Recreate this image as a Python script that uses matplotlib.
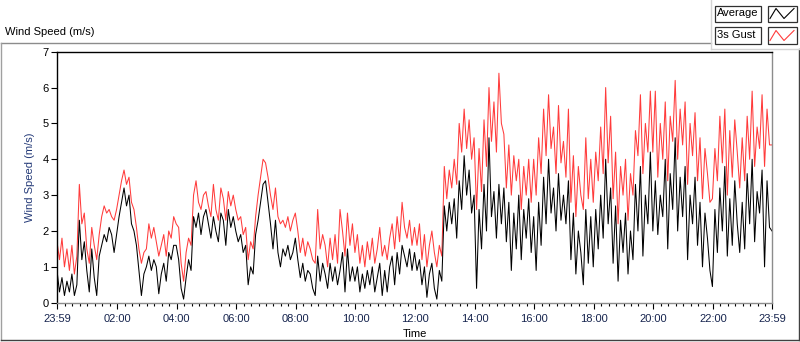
import numpy as np
import matplotlib.pyplot as plt
from matplotlib.patches import Rectangle
from matplotlib.lines import Line2D

# wind speed in m/s, 5 minute samples starting at 23:59 (one row = one hour)
avg_speed = [
    0.9, 0.3, 0.7, 0.2, 0.6, 0.3, 0.8, 0.2, 0.5, 2.3, 1.2, 1.7,
    0.9, 0.3, 1.5, 0.7, 0.2, 1.3, 1.6, 1.9, 1.7, 2.1, 1.9, 1.4,
    1.9, 2.4, 2.8, 3.2, 2.7, 3.0, 2.2, 2.0, 1.6, 0.9, 0.2, 0.8,
    1.0, 1.3, 0.9, 1.2, 1.0, 0.25, 0.8, 1.1, 0.6, 1.4, 1.2, 1.6,
    1.6, 1.2, 0.4, 0.1, 0.7, 1.2, 0.9, 2.4, 2.1, 2.5, 1.9, 2.4,
    2.6, 2.2, 1.8, 2.4, 2.0, 1.7, 2.5, 2.3, 1.6, 2.6, 2.1, 2.4,
    2.0, 1.7, 1.9, 1.4, 1.6, 0.5, 1.0, 0.8, 1.9, 2.3, 2.8, 3.3,
    3.4, 2.8, 2.2, 1.5, 2.3, 1.4, 1.0, 1.5, 1.3, 1.6, 1.2, 1.4,
    1.8, 1.2, 0.7, 1.1, 0.6, 0.9, 0.8, 0.4, 0.2, 1.3, 0.6, 1.1,
    0.8, 0.4, 1.1, 0.6, 1.0, 0.5, 0.9, 1.4, 0.3, 1.5, 0.6, 1.0,
    0.6, 1.0, 0.3, 0.8, 0.4, 0.9, 0.5, 1.0, 0.3, 0.7, 1.1, 0.2,
    0.9, 0.3, 1.0, 1.3, 0.5, 1.4, 0.8, 1.6, 1.3, 1.0, 1.5, 0.9,
    1.4, 0.9, 1.2, 0.5, 1.0, 0.15, 0.8, 1.1, 0.4, 0.1, 0.9, 0.6,
    2.7, 2.0, 2.8, 2.2, 2.9, 1.8, 3.4, 2.6, 4.1, 3.0, 3.7, 2.5,
    3.0, 0.4, 2.6, 1.5, 3.3, 2.0, 4.6, 2.4, 3.1, 1.8, 3.3, 2.2,
    3.2, 1.7, 2.8, 0.9, 2.5, 1.5, 3.0, 1.2, 2.6, 1.8, 2.9, 1.4,
    2.4, 0.9, 2.8, 1.6, 3.5, 2.2, 4.0, 2.5, 3.2, 2.0, 3.6, 2.3,
    3.0, 2.2, 3.4, 1.2, 2.5, 0.8, 2.0, 1.4, 0.5, 2.6, 1.1, 2.4,
    1.0, 2.6, 1.5, 3.0, 1.8, 4.0, 2.2, 3.2, 1.1, 2.7, 0.6, 2.3,
    1.4, 2.5, 0.8, 2.0, 1.2, 3.3, 2.0, 3.8, 1.3, 3.0, 2.2, 4.2,
    2.0, 3.4, 1.9, 3.0, 2.4, 4.0, 1.5, 3.6, 2.6, 4.6, 2.0, 3.5,
    2.4, 3.8, 1.2, 3.0, 2.2, 3.5, 1.6, 2.8, 1.0, 2.5, 1.8, 0.9,
    0.45, 2.6, 1.4, 3.2, 2.0, 3.8, 1.3, 2.9, 1.6, 3.4, 2.2, 1.4,
    2.8, 1.5, 3.6, 2.2, 4.0, 1.7, 3.1, 2.5, 3.7, 1.0, 3.4, 2.1,
    2.0,
]
gust_speed = [
    1.7, 1.2, 1.8, 1.0, 1.5, 0.9, 1.6, 0.8, 1.3, 3.3, 2.2, 2.5,
    1.5, 1.1, 2.1, 1.6, 1.2, 1.9, 2.4, 2.7, 2.5, 2.6, 2.4, 2.3,
    2.6, 3.0, 3.4, 3.7, 3.3, 3.5, 2.8, 2.6, 2.1, 1.5, 1.1, 1.4,
    1.5, 2.2, 1.8, 2.1, 1.7, 1.3, 1.6, 1.9, 1.3, 2.0, 1.8, 2.4,
    2.2, 2.1, 1.1, 0.6, 1.4, 1.8, 1.6, 3.0, 3.4, 2.8, 2.6, 3.0,
    3.1, 2.7, 2.4, 3.3, 2.6, 2.3, 3.2, 2.9, 2.3, 3.1, 2.7, 3.0,
    2.6, 2.3, 2.4, 1.9, 2.1, 1.2, 1.7, 1.5, 2.4, 3.0, 3.5, 4.0,
    3.9, 3.5, 3.0, 2.6, 3.2, 2.4, 2.2, 2.3, 2.1, 2.4, 2.0, 2.3,
    2.5, 2.0, 1.4, 1.8, 1.3, 1.7, 1.5, 1.2, 1.1, 2.6, 1.5, 1.9,
    1.6, 1.0, 1.8, 1.2, 1.9, 1.1, 2.6, 2.0, 1.3, 2.5, 1.6, 2.2,
    1.4, 1.9, 1.1, 1.6, 1.0, 1.7, 1.2, 1.8, 1.1, 1.5, 2.1, 1.3,
    1.6, 1.2, 1.8, 2.2, 1.5, 2.4, 1.7, 2.8, 2.1, 1.8, 2.3, 1.6,
    2.1, 1.6, 2.2, 1.2, 1.9, 1.0, 1.6, 2.0, 1.4, 1.0, 1.6, 1.3,
    3.8, 2.9, 3.7, 3.2, 4.0, 3.3, 5.0, 4.2, 5.4, 4.3, 5.1, 4.0,
    4.6, 2.6, 4.3, 3.1, 5.1, 3.8, 6.0, 4.5, 5.6, 4.2, 6.4, 5.0,
    4.7, 3.2, 4.4, 3.0, 4.1, 3.4, 4.0, 2.6, 3.8, 3.0, 4.0, 2.8,
    4.0, 3.0, 4.6, 3.6, 5.4, 4.1, 5.8, 4.3, 4.9, 3.6, 5.5, 3.9,
    4.5, 3.5, 5.4, 2.8, 4.1, 2.4, 3.8, 3.0, 2.6, 4.6, 2.9, 4.0,
    2.8, 4.2, 3.4, 4.9, 3.6, 6.0, 3.9, 5.2, 2.9, 4.2, 2.2, 3.8,
    3.0, 4.0, 2.3, 3.6, 3.0, 4.8, 4.1, 5.8, 3.6, 5.0, 4.2, 5.9,
    4.2, 5.9, 3.5, 5.0, 4.0, 5.6, 3.4, 5.2, 4.5, 6.2, 4.0, 5.4,
    4.4, 5.6, 3.3, 5.0, 4.1, 5.3, 3.4, 4.6, 2.9, 4.3, 3.6, 2.8,
    2.9, 4.3, 3.4, 5.2, 3.9, 5.4, 3.0, 4.8, 3.5, 5.1, 4.2, 3.2,
    4.6, 3.4, 5.2, 4.0, 5.9, 3.8, 4.9, 4.3, 5.8, 3.8, 5.4, 4.4,
    4.4,
]
tick_labels = ['23:59', '02:00', '04:00', '06:00', '08:00', '10:00', '12:00',
               '14:00', '16:00', '18:00', '20:00', '22:00', '23:59']

hours = np.arange(len(avg_speed)) * 5 / 60.0

plt.rcParams['font.family'] = 'Liberation Sans'
plt.rcParams['font.size'] = 8

W, H = 800, 342
fig = plt.figure(figsize=(W / 100, H / 100), dpi=100)

def fx(px):
    return px / W

def fy(py):
    return 1 - py / H

ax = fig.add_axes([fx(57), fy(302.7), fx(772) - fx(57), fy(51.7) - fy(302.7)])
ax.plot(hours, gust_speed, color='#ff3b3b', lw=0.75)
ax.plot(hours, avg_speed, color='black', lw=0.75)

ax.set_xlim(0, 24)
ax.set_ylim(0, 7)

# major ticks: start, every 2 h on the clock, end
major = [0] + [2 * k + 1 / 60 for k in range(1, 12)] + [24]
minor = [1 / 60 + 0.25 * k for k in range(1, 96) if k % 8 != 0]
ax.set_xticks(major)
ax.set_xticklabels(tick_labels, color='#16244e')
ax.set_xticks(minor, minor=True)
ax.set_yticks(range(8))
ax.tick_params(axis='x', which='major', length=4, width=0.8, pad=4)
ax.tick_params(axis='x', which='minor', length=2.5, width=0.8)
ax.tick_params(axis='y', length=4, width=0.8, pad=2)

ax.set_xlabel('Time', labelpad=3.5)
ax.set_ylabel('Wind Speed (m/s)', color='#243a78', labelpad=5)

ax.spines['top'].set_color('black')
ax.spines['left'].set_color('black')
ax.spines['right'].set_color('#8c8c8c')
ax.spines['bottom'].set_color('#8c8c8c')
for s in ax.spines.values():
    s.set_linewidth(1.0)

# outer frame of the chart panel
frame = [((1, 42.5), (711, 42.5), '#8c8c8c'),
         ((1, 42.5), (1, 340), '#a0a0a0'),
         ((1, 340), (799, 340), '#404040'),
         ((799, 49), (799, 340), '#404040'),
         ((711, 0), (711, 49), '#d4d4d4'),
         ((711, 49), (799, 49), '#d4d4d4')]
for (x0, y0), (x1, y1), c in frame:
    fig.add_artist(Line2D([fx(x0), fx(x1)], [fy(y0), fy(y1)], color=c, lw=1))

fig.text(fx(5), fy(32), 'Wind Speed (m/s)', ha='left', va='center')

# legend boxes
legend_rows = [('Average', 'black', 5.5, 21.5), ('3s Gust', '#ff3b3b', 27.5, 43.5)]
for label, color, top, bottom in legend_rows:
    fig.add_artist(Rectangle((fx(715), fy(bottom)), fx(761) - fx(715), fy(top) - fy(bottom),
                             transform=fig.transFigure, facecolor='white',
                             edgecolor='#303030', lw=0.9))
    fig.text(fx(717), fy((top + bottom) / 2), label, ha='left', va='center')
    fig.add_artist(Rectangle((fx(768), fy(bottom)), fx(797) - fx(768), fy(top) - fy(bottom),
                             transform=fig.transFigure, facecolor='white',
                             edgecolor='#303030', lw=0.9))
    zx = [770, 776, 784, 794]
    zy = [bottom - 3, top + 3, bottom - 3, top + 3]
    fig.add_artist(Line2D([fx(v) for v in zx], [fy(v) for v in zy], color=color, lw=0.8))

fig.savefig('out.png', dpi=100)
